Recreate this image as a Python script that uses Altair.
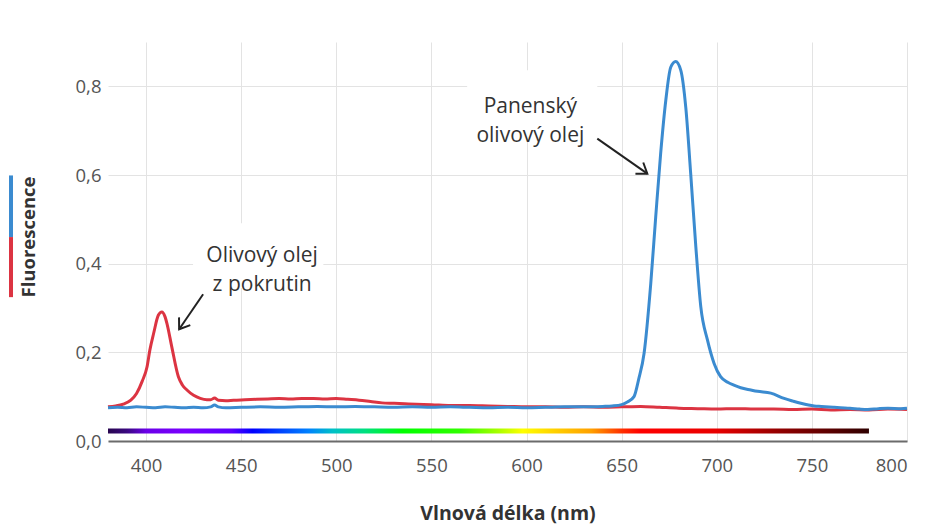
import altair as alt
import pandas as pd

# ---- data ----
blue_nm = [380, 385, 390, 395, 400, 405, 410, 415, 420, 425, 430, 434, 436, 438, 442, 450, 460, 470, 480, 490,
           500, 510, 520, 530, 540, 550, 560, 570, 580, 590, 600, 610, 620, 630, 640, 645, 650, 653, 656.5, 659,
           661.8, 665.3, 667.9, 670.5, 673.2, 675.8, 678.4, 681.1, 683.7, 686.3, 689, 691.6, 695.1, 698.6, 702,
           706, 709, 712.6, 717.9, 721.4, 728.4, 735.4, 740, 744.2, 751.2, 755, 761.7, 765, 770, 775, 779.3, 785,
           790, 796.8, 800]
blue_val = [0.075, 0.076, 0.075, 0.077, 0.076, 0.075, 0.077, 0.076, 0.075, 0.076, 0.075, 0.077, 0.081, 0.077,
            0.075, 0.076, 0.077, 0.076, 0.077, 0.078, 0.077, 0.078, 0.077, 0.076, 0.077, 0.076, 0.077, 0.076,
            0.075, 0.076, 0.075, 0.076, 0.077, 0.077, 0.078, 0.079, 0.082, 0.088, 0.100, 0.140, 0.198, 0.355,
            0.505, 0.648, 0.768, 0.843, 0.856, 0.836, 0.753, 0.603, 0.438, 0.303, 0.228, 0.175, 0.145, 0.132,
            0.126, 0.120, 0.115, 0.112, 0.108, 0.096, 0.090, 0.085, 0.079, 0.078, 0.076, 0.075, 0.074, 0.072,
            0.071, 0.073, 0.074, 0.073, 0.074]

red_nm = [380, 384, 388, 392, 395, 398, 400.5, 402, 404, 406.5, 408.3, 410, 411, 413.5, 417, 419, 421.5, 425,
          428.5, 432, 434, 436, 438, 442, 446, 452, 458, 464, 470, 476, 482, 488, 494, 500, 506, 512, 518, 524,
          530, 536, 542, 550, 560, 570, 580, 590, 600, 610, 620, 630, 640, 650, 660, 670, 680, 690, 700, 710,
          720, 730, 740, 750, 760, 770, 780, 790, 800]
red_val = [0.077, 0.079, 0.083, 0.092, 0.107, 0.135, 0.167, 0.205, 0.243, 0.284, 0.291, 0.280, 0.265, 0.213,
           0.145, 0.127, 0.115, 0.103, 0.096, 0.093, 0.093, 0.097, 0.092, 0.091, 0.092, 0.093, 0.094, 0.095,
           0.096, 0.095, 0.096, 0.096, 0.095, 0.096, 0.094, 0.092, 0.089, 0.086, 0.085, 0.084, 0.083, 0.082,
           0.080, 0.080, 0.079, 0.078, 0.077, 0.077, 0.076, 0.077, 0.076, 0.077, 0.078, 0.076, 0.074, 0.073,
           0.072, 0.073, 0.072, 0.072, 0.071, 0.072, 0.070, 0.071, 0.070, 0.072, 0.071]

x_ticks = [400, 450, 500, 550, 600, 650, 700, 750, 800]
y_ticks = [0.0, 0.2, 0.4, 0.6, 0.8]

# visible spectrum strip (nm range and colour stops)
spec_start, spec_end = 380, 780
spec_nm = [380, 390, 400, 420, 445, 456, 470, 485, 498, 515, 535, 565, 585, 598, 615, 634, 650, 660, 700, 734, 760, 780]
spec_col = ["#28064f", "#3a0880", "#6a00e8", "#7a00ff", "#5a00ff", "#0000ff", "#0040ff", "#0080ff", "#00c0c8",
            "#00e080", "#00ff00", "#30ff00", "#a8ff00", "#ffff00", "#ffd000", "#ffa000", "#ff3000", "#ff0000",
            "#e80000", "#900000", "#5a0000", "#2e0000"]

# annotations
labels = ["Olivový olej\nz pokrutin", "Panenský\nolivový olej"]
label_x = [461, 602]
label_y = [0.417, 0.7534]
box_x = [424.7, 568.8]
box_x2 = [493.2, 637.2]
box_y = [0.491, 0.836]
box_y2 = [0.345, 0.683]
arrow_x = [430, 637.2]
arrow_y = [0.331, 0.682]
arrow_x2 = [417.4, 663.5]
arrow_y2 = [0.252, 0.603]
arrow_angle = [124.4, 35.0]

BLUE = "#3b8bd0"
RED = "#dc3442"
FONT = "Open Sans"

blue_df = pd.DataFrame({"nm": blue_nm, "f": blue_val})
red_df = pd.DataFrame({"nm": red_nm, "f": red_val})
ann_df = pd.DataFrame({"label": labels, "lx": label_x, "ly": label_y,
                       "bx": box_x, "bx2": box_x2, "by": box_y, "by2": box_y2,
                       "ax": arrow_x, "ay": arrow_y, "ax2": arrow_x2, "ay2": arrow_y2,
                       "ang": arrow_angle})
spec_df = pd.DataFrame({"s": [spec_start], "e": [spec_end], "y": [0.017], "y2": [0.028]})
key_df = pd.DataFrame({"top": [0.599, 0.46], "bot": [0.46, 0.3245], "c": [BLUE, RED]})

xscale = alt.Scale(domain=[380, 800], nice=False, zero=False)
yscale = alt.Scale(domain=[0, 0.9], nice=False)

x_axis = alt.Axis(values=x_ticks, title="Vlnová délka (nm)", grid=True, gridColor="#e3e3e3",
                  domain=True, domainColor="#6b6b6b", domainWidth=2, ticks=False,
                  labelPadding=15, labelFontSize=18.5, labelColor="#555", labelFont=FONT,
                  titleFont=FONT, titleFontSize=19.5, titleFontWeight="bold", titleColor="#333",
                  titleX=399.5, titleY=72, titleBaseline="middle", titleAlign="center")
y_axis = alt.Axis(values=y_ticks, title="Fluorescence", grid=True, gridColor="#e3e3e3",
                  domain=False, ticks=False, labelPadding=7, labelFontSize=18.5, labelColor="#555",
                  labelFont=FONT, labelExpr="replace(format(datum.value, '.1f'), '.', ',')",
                  titleFont=FONT, titleFontSize=18.5, titleFontWeight="bold", titleColor="#333",
                  titleX=-80, titleY=194.5, titleAngle=270, titleAlign="center", titleBaseline="middle")


def X(field):
    return alt.X(field, type="quantitative", scale=xscale, axis=x_axis, title="Vlnová délka (nm)")


def Y(field):
    return alt.Y(field, type="quantitative", scale=yscale, axis=y_axis, title="Fluorescence")


red_line = alt.Chart(red_df).mark_line(color=RED, strokeWidth=3, interpolate="monotone").encode(
    x=X("nm"), y=Y("f"))
blue_line = alt.Chart(blue_df).mark_line(color=BLUE, strokeWidth=3, interpolate="monotone").encode(
    x=X("nm"), y=Y("f"))

gradient = alt.LinearGradient(
    gradient="linear", x1=0, x2=1, y1=0, y2=0,
    stops=[alt.GradientStop(color=c, offset=(n - spec_start) / (spec_end - spec_start))
           for n, c in zip(spec_nm, spec_col)],
)
spectrum = alt.Chart(spec_df).mark_rect(color=gradient).encode(
    x=X("s"), x2="e:Q", y=Y("y"), y2="y2:Q")

boxes = alt.Chart(ann_df).mark_rect(fill="white", cornerRadius=6).encode(
    x=X("bx"), x2="bx2:Q", y=Y("by"), y2="by2:Q")
texts = alt.Chart(ann_df).mark_text(font=FONT, fontSize=21, color="#333", lineBreak="\n",
                                    lineHeight=29, align="center", baseline="middle").encode(
    x=X("lx"), y=Y("ly"), text="label:N")
arrows = alt.Chart(ann_df).mark_rule(color="#222", strokeWidth=2).encode(
    x=X("ax"), y=Y("ay"), x2="ax2:Q", y2="ay2:Q")
heads = alt.Chart(ann_df).mark_point(shape="M-1,-0.7L0,0L-1,0.7", filled=False, color="#222",
                                     strokeWidth=2, size=380, opacity=1).encode(
    x=X("ax2"), y=Y("ay2"), angle=alt.Angle("ang:Q", scale=None))

# coloured key beside the y title
key = alt.Chart(key_df).mark_rule(strokeWidth=4).encode(
    x=alt.value(-97), y=Y("top"), y2="bot:Q", color=alt.Color("c:N", scale=None))

chart = alt.layer(red_line, blue_line, spectrum, boxes, texts, arrows, heads, key).properties(
    width=799, height=399,
    background="white",
    autosize=alt.AutoSizeParams(type="none"),
    padding={"left": 100, "top": 34, "right": 12, "bottom": 84},
).configure_view(stroke=None)

chart.save("out.html", embed_options={"renderer": "svg", "actions": False})
